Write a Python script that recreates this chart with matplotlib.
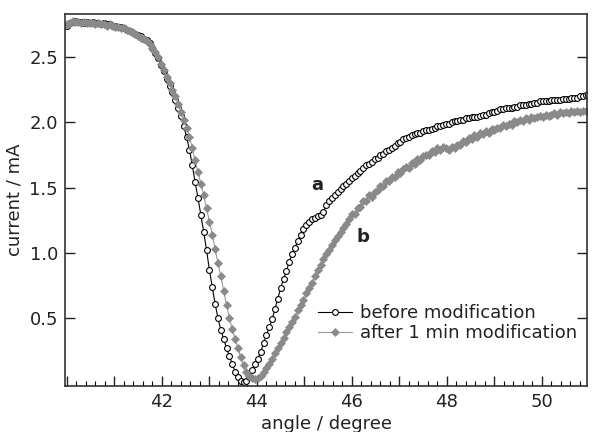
##########Import Libraries##########
import numpy as np
import matplotlib
matplotlib.use('Agg')
import matplotlib.pyplot as plt
from matplotlib.ticker import MultipleLocator, FixedLocator

##########Data##########
#Scan angles (degree), one reading every 0.06 degree
angle = np.round(40.0 + 0.06 * np.arange(184), 2)

#Curve a : before modification (mA)
current_before = [
    2.74, 2.76, 2.77, 2.78, 2.77, 2.77, 2.76, 2.77, 2.76, 2.77,
    2.76, 2.76, 2.75, 2.76, 2.75, 2.75, 2.74, 2.74, 2.73, 2.73,
    2.72, 2.71, 2.70, 2.69, 2.68, 2.67, 2.66, 2.64, 2.63, 2.61,
    2.57, 2.53, 2.49, 2.44, 2.39, 2.33, 2.28, 2.23, 2.17, 2.11,
    2.05, 1.97, 1.89, 1.79, 1.67, 1.54, 1.42, 1.29, 1.16, 1.02,
    0.87, 0.74, 0.61, 0.50, 0.41, 0.34, 0.27, 0.21, 0.15, 0.09,
    0.05, 0.02, 0.01, 0.02, 0.05, 0.10, 0.15, 0.19, 0.24, 0.31,
    0.37, 0.43, 0.49, 0.57, 0.65, 0.73, 0.80, 0.86, 0.93, 0.99,
    1.04, 1.09, 1.14, 1.18, 1.21, 1.24, 1.26, 1.27, 1.28, 1.29,
    1.31, 1.37, 1.40, 1.42, 1.44, 1.47, 1.49, 1.51, 1.53, 1.55,
    1.57, 1.59, 1.61, 1.63, 1.65, 1.67, 1.68, 1.70, 1.72, 1.73,
    1.75, 1.76, 1.78, 1.79, 1.80, 1.82, 1.84, 1.85, 1.87, 1.88,
    1.89, 1.90, 1.91, 1.92, 1.92, 1.93, 1.94, 1.94, 1.95, 1.96,
    1.97, 1.97, 1.98, 1.99, 1.99, 2.00, 2.01, 2.01, 2.02, 2.02,
    2.03, 2.03, 2.04, 2.04, 2.04, 2.05, 2.06, 2.06, 2.07, 2.08,
    2.08, 2.09, 2.10, 2.10, 2.11, 2.11, 2.11, 2.12, 2.12, 2.13,
    2.13, 2.13, 2.14, 2.14, 2.15, 2.15, 2.16, 2.16, 2.16, 2.16,
    2.17, 2.17, 2.17, 2.17, 2.18, 2.18, 2.18, 2.19, 2.19, 2.19,
    2.20, 2.20, 2.21, 2.21]

#Curve b : after 1 min modification (mA)
current_after = [
    2.75, 2.76, 2.78, 2.77, 2.77, 2.76, 2.77, 2.76, 2.76, 2.76,
    2.75, 2.76, 2.75, 2.75, 2.74, 2.75, 2.74, 2.73, 2.73, 2.72,
    2.72, 2.71, 2.70, 2.69, 2.68, 2.66, 2.65, 2.64, 2.62, 2.60,
    2.57, 2.54, 2.50, 2.45, 2.40, 2.35, 2.30, 2.25, 2.20, 2.14,
    2.08, 2.02, 1.96, 1.89, 1.80, 1.71, 1.62, 1.53, 1.44, 1.34,
    1.24, 1.14, 1.03, 0.92, 0.82, 0.71, 0.60, 0.50, 0.42, 0.34,
    0.27, 0.20, 0.14, 0.09, 0.06, 0.04, 0.03, 0.04, 0.06, 0.09,
    0.12, 0.15, 0.19, 0.23, 0.27, 0.31, 0.35, 0.39, 0.43, 0.47,
    0.51, 0.56, 0.60, 0.64, 0.69, 0.73, 0.77, 0.82, 0.87, 0.91,
    0.95, 0.99, 1.02, 1.06, 1.10, 1.13, 1.16, 1.19, 1.22, 1.26,
    1.30, 1.30, 1.34, 1.35, 1.40, 1.40, 1.44, 1.43, 1.47, 1.48,
    1.51, 1.51, 1.55, 1.55, 1.58, 1.58, 1.62, 1.61, 1.64, 1.66,
    1.65, 1.69, 1.68, 1.72, 1.71, 1.74, 1.75, 1.75, 1.78, 1.77,
    1.80, 1.79, 1.81, 1.80, 1.79, 1.81, 1.80, 1.83, 1.83, 1.86,
    1.85, 1.88, 1.87, 1.90, 1.89, 1.92, 1.91, 1.93, 1.92, 1.95,
    1.94, 1.96, 1.96, 1.98, 1.97, 1.99, 1.98, 2.01, 2.00, 2.02,
    2.01, 2.03, 2.02, 2.04, 2.03, 2.04, 2.05, 2.04, 2.06, 2.05,
    2.06, 2.07, 2.06, 2.08, 2.07, 2.08, 2.07, 2.09, 2.08, 2.09,
    2.08, 2.09, 2.09, 2.08]

legend_labels = ['before modification', 'after 1 min modification']

##########Figure##########
plt.rcParams['font.family'] = 'DejaVu Sans'
plt.rcParams['font.size'] = 13
text_color = '#222222'

fig = plt.figure(figsize=(5.92, 4.32), dpi=100)
ax = fig.add_axes([0.1098, 0.1065, 0.8818, 0.861])

#Plot curve a then curve b on top
ax.plot(angle, current_before, color='black', lw=0.8, marker='o', ms=4.2,
        mfc='white', mec='black', mew=0.8, label=legend_labels[0])
ax.plot(angle, current_after, color='#9a9a9a', lw=0.8, marker='D', ms=4.0,
        mfc='#8a8a8a', mec='#8a8a8a', mew=0.5, label=legend_labels[1])

#Curve labels
ax.text(45.27, 1.52, 'a', fontweight='bold', ha='center', va='center', color=text_color)
ax.text(46.24, 1.12, 'b', fontweight='bold', ha='center', va='center', color=text_color)

#Axes limits
ax.set_xlim(39.96, 50.95)
ax.set_ylim(-0.02, 2.83)

#X ticks: major every degree (labels on even from 42), minor every 0.2
ax.xaxis.set_major_locator(MultipleLocator(1))
ax.xaxis.set_minor_locator(MultipleLocator(0.2))
ax.xaxis.set_major_formatter(plt.FuncFormatter(
    lambda v, p: '%d' % v if (round(v) % 2 == 0 and v > 41) else ''))
ax.tick_params(axis='x', which='major', direction='in', length=7, width=1, pad=5,
               colors=text_color, top=False)
ax.tick_params(axis='x', which='minor', direction='in', length=3.5, width=0.8, top=False)
for t in ax.xaxis.get_major_ticks():
    if round(t.get_loc()) % 2 == 1:
        t.tick1line.set_markersize(5)

#Y ticks
ax.yaxis.set_major_locator(FixedLocator([0.5, 1.0, 1.5, 2.0, 2.5]))
ax.yaxis.set_major_formatter(plt.FuncFormatter(lambda v, p: '%.1f' % v))
ax.tick_params(axis='y', which='major', direction='in', length=7, width=1, pad=5,
               colors=text_color, right=True)

#Spines
for s in ax.spines.values():
    s.set_linewidth(1.2)
    s.set_color('#333333')

#Axis labels
ax.set_xlabel('angle / degree', color=text_color, labelpad=3)
ax.set_ylabel('current / mA', color=text_color, labelpad=4)

#Legend
ax.legend(loc='upper left', bbox_to_anchor=(0.485, 0.22), frameon=False,
          numpoints=1, handlelength=1.9, handletextpad=0.4, labelspacing=0.1,
          borderpad=0, borderaxespad=0, labelcolor=text_color)

#Save plot
fig.savefig('out.png', dpi=100)
